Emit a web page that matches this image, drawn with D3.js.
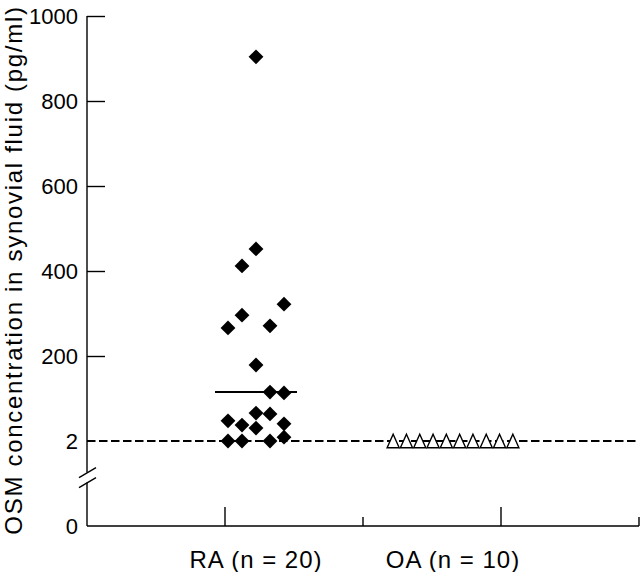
<!DOCTYPE html>
<html>
<head>
<meta charset="utf-8">
<script src="https://cdn.jsdelivr.net/npm/d3@7"></script>
<style>
  html, body { margin: 0; padding: 0; background: #fff; }
  svg { display: block; font-family: "Liberation Sans", Arial, sans-serif; }
</style>
</head>
<body>
<svg id="chart" width="640" height="572"></svg>
<script>
(function () {
    'use strict';

    // values (pg/ml); values at the detection limit are 2
    const groups = ["RA (n = 20)", "OA (n = 10)"];
    const raValues = [904, 452, 412, 322, 296, 271, 266, 179, 116, 114,
                      67, 65, 49, 42, 39, 32, 11, 2, 2, 2];
    const raColumn = [0, 0, -1, 2, -1, 1, -2, 0, 1, 2,
                      0, 1, -2, 2, -1, 0, 2, -2, -1, 1];
    const oaValues = [2, 2, 2, 2, 2, 2, 2, 2, 2, 2];
    const raMean = 116;
    const detectionLimit = 2;
    const yTicks = [0, 2, 200, 400, 600, 800, 1000];

    const svg = d3.select('#chart');

    // broken axis: 0 -> 2 takes one step, 2 -> 1000 is linear above that
    const y = d3.scaleLinear()
            .domain([0, 2, 200, 1000])
            .range([526, 441, 356, 16]);

    const x = d3.scaleLinear()
            .domain([0, 4])
            .range([87, 639]);

    const groupX = d3.scalePoint()
            .domain(groups)
            .range([256, 453]);

    const colStep = 14;

    // y axis
    const yAxis = svg.append("g")
            .attr("transform", `translate(${x(0)},0)`)
            .call(d3.axisLeft(y)
                .tickValues(yTicks)
                .tickFormat(d3.format("d"))
                .tickSizeInner(-18)
                .tickSizeOuter(0)
                .tickPadding(9));
    yAxis.select(".domain").remove();
    yAxis.selectAll(".tick line")
            .attr("stroke-width", 1.4)
            .filter(d => d <= detectionLimit).remove();
    yAxis.selectAll(".tick text")
            .attr("font-size", 22)
            .attr("font-family", "Liberation Sans, Arial, sans-serif")
            .attr("fill", "#000");

    // y axis line with break marks
    const breakY = y(0) + (y(2) - y(0)) * 0.57;
    svg.append("line")
            .attr("x1", x(0)).attr("x2", x(0))
            .attr("y1", y(1000)).attr("y2", breakY - 5)
            .attr("stroke", "#000").attr("stroke-width", 1.4);
    svg.append("line")
            .attr("x1", x(0)).attr("x2", x(0))
            .attr("y1", breakY + 5).attr("y2", y(0))
            .attr("stroke", "#000").attr("stroke-width", 1.4);
    [-5, 5].forEach(off => {
        svg.append("line")
                .attr("x1", x(0) - 8).attr("y1", breakY + off + 5)
                .attr("x2", x(0) + 9).attr("y2", breakY + off - 5)
                .attr("stroke", "#000").attr("stroke-width", 1.4);
    });

    // x axis
    svg.append("line")
            .attr("x1", x(0)).attr("x2", x(4))
            .attr("y1", y(0)).attr("y2", y(0))
            .attr("stroke", "#000").attr("stroke-width", 1.4);
    svg.append("g")
            .selectAll("line")
            .data([1, 2, 3, 4])
            .join("line")
            .attr("x1", d => x(d)).attr("x2", d => x(d))
            .attr("y1", y(0))
            .attr("y2", d => y(0) - (d % 2 ? 19 : 9))
            .attr("stroke", "#000").attr("stroke-width", 1.4);

    svg.append("g")
            .selectAll("text")
            .data(groups)
            .join("text")
            .attr("x", d => groupX(d))
            .attr("y", 568)
            .attr("text-anchor", "middle")
            .attr("font-size", 24)
            .attr("letter-spacing", 1)
            .text(d => d);

    // y title
    svg.append("text")
            .attr("transform", `translate(22,${270}) rotate(-90)`)
            .attr("text-anchor", "middle")
            .attr("font-size", 24)
            .attr("letter-spacing", 1.7)
            .text("OSM concentration in synovial fluid (pg/ml)");

    // detection limit
    svg.append("line")
            .attr("x1", x(0)).attr("x2", x(4))
            .attr("y1", y(detectionLimit)).attr("y2", y(detectionLimit))
            .attr("stroke", "#000")
            .attr("stroke-width", 2)
            .attr("stroke-dasharray", "8.5,3.5");

    // RA mean
    svg.append("line")
            .attr("x1", groupX(groups[0]) - 41).attr("x2", groupX(groups[0]) + 41)
            .attr("y1", y(raMean)).attr("y2", y(raMean))
            .attr("stroke", "#000").attr("stroke-width", 2);

    // RA diamonds
    const diamond = d3.symbol().type(d3.symbolSquare).size(110);
    svg.append("g")
            .selectAll("path")
            .data(raValues)
            .join("path")
            .attr("d", diamond)
            .attr("transform", (d, i) =>
                `translate(${groupX(groups[0]) + raColumn[i] * colStep},${y(d)}) rotate(45)`)
            .attr("fill", "#000");

    // OA open triangles
    const triW = 13.3, triH = 12.5;
    const oaStart = groupX(groups[1]) - triW * (oaValues.length - 1) / 2;
    svg.append("g")
            .selectAll("path")
            .data(oaValues)
            .join("path")
            .attr("d", `M0,${-triH / 2 - 0.5}L${triW / 2 - 0.6},${triH / 2 + 0.5}L${-triW / 2 + 0.6},${triH / 2 + 0.5}Z`)
            .attr("transform", (d, i) => `translate(${oaStart + i * triW},${y(d)})`)
            .attr("fill", "#fff")
            .attr("stroke", "#000")
            .attr("stroke-width", 1.4);
}());
</script>
</body>
</html>
